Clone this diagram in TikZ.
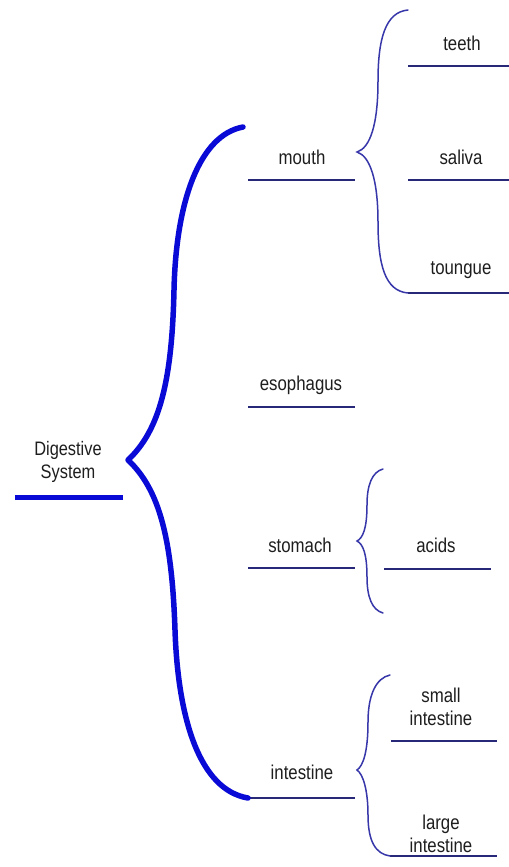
\documentclass[tikz,border=0pt]{standalone}
\usepackage{fontspec}
\setmainfont{Liberation Sans}[FakeStretch=0.84]
\definecolor{bigblue}{RGB}{10,10,215}
\definecolor{thinblue}{RGB}{55,55,170}
\definecolor{ulblue}{RGB}{40,40,120}
\definecolor{txt}{RGB}{30,30,30}
\begin{document}
\begin{tikzpicture}[x=1bp,y=-1bp,
  lbl/.style={text=txt,font=\fontsize{20bp}{23.5bp}\selectfont,align=center,inner sep=0pt},
  uline/.style={draw=ulblue,line width=1.6bp},
  bigbrace/.style={draw=bigblue,line width=5.5bp,line cap=round,line join=round},
  smallbrace/.style={draw=thinblue,line width=1.5bp,line cap=round}]
\useasboundingbox (0,0) rectangle (509,867);
\fill[white] (0,0) rectangle (509,867);

% root
\node[lbl,font=\fontsize{19.5bp}{23.5bp}\selectfont] (root) at (68,462) {Digestive\\System};
\coordinate (rootL) at (15,497);
\coordinate (rootR) at (123,497);
\draw[draw=bigblue,line width=5bp] (rootL) -- (rootR);

% level 1
\node[lbl] (mouth) at (302,157) {mouth};
\node[lbl] (esoph) at (301,385) {esophagus};
\node[lbl] (stomach) at (300,545) {stomach};
\node[lbl] (intest) at (302,772) {intestine};
\foreach \n/\y in {m/180,e/407,s/568,i/798}{
  \coordinate (\n L) at (248,\y);
  \coordinate (\n R) at (355,\y);
  \draw[uline] (\n L) -- (\n R);
}

% big brace
\coordinate (bigtip) at (128,460);
\draw[bigbrace] (mL) ++(-5,-53) coordinate (bigtop)
  .. controls (200,135) and (176,200) .. (174,290)
  .. controls (172,380) and (160,430) .. (bigtip)
  .. controls (160,490) and (172,540) .. (175,630)
  .. controls (178,720) and (200,790) .. (iL);

% mouth children
\node[lbl] (teeth) at (462,43) {teeth};
\node[lbl] (saliva) at (461,157) {saliva};
\node[lbl] (tongue) at (461,270) {toungue};
\foreach \n/\y in {t/66,sa/180,to/293}{
  \coordinate (\n L) at (408,\y);
  \coordinate (\n R) at (509,\y);
  \draw[uline] (\n L) -- (\n R);
}
\coordinate (mtop) at (408,10);
\coordinate (mtip) at (357,152);
\draw[smallbrace] (mtop) .. controls (385,12) and (378,40) .. (378,81)
  .. controls (378,125) and (370,148) .. (mtip)
  .. controls (370,156) and (378,180) .. (378,222)
  .. controls (378,265) and (385,291) .. (toL);

% stomach children
\node[lbl] (acids) at (436,545) {acids};
\coordinate (aL) at (384,569);
\coordinate (aR) at (491,569);
\draw[uline] (aL) -- (aR);
\coordinate (stop) at (383,469);
\coordinate (stip) at (357,541);
\coordinate (sbot) at (383,613);
\draw[smallbrace] (stop) .. controls (372,472) and (367,485) .. (367,505)
  .. controls (367,528) and (363,538) .. (stip)
  .. controls (363,544) and (367,554) .. (367,577)
  .. controls (367,597) and (372,610) .. (sbot);

% intestine children
\node[lbl] (small) at (441,707) {small\\intestine};
\node[lbl] (large) at (441,834) {large\\intestine};
\coordinate (smL) at (391,741);
\coordinate (smR) at (497,741);
\draw[uline] (smL) -- (smR);
\coordinate (lgL) at (390,856);
\coordinate (lgR) at (497,856);
\draw[uline] (lgL) -- (lgR);
\coordinate (itop) at (390,675);
\coordinate (itip) at (357,770);
\draw[smallbrace] (itop) .. controls (376,678) and (368,695) .. (368,722)
  .. controls (368,752) and (363,766) .. (itip)
  .. controls (363,774) and (368,790) .. (368,815)
  .. controls (368,842) and (376,854) .. (lgL);
\end{tikzpicture}
\end{document}
